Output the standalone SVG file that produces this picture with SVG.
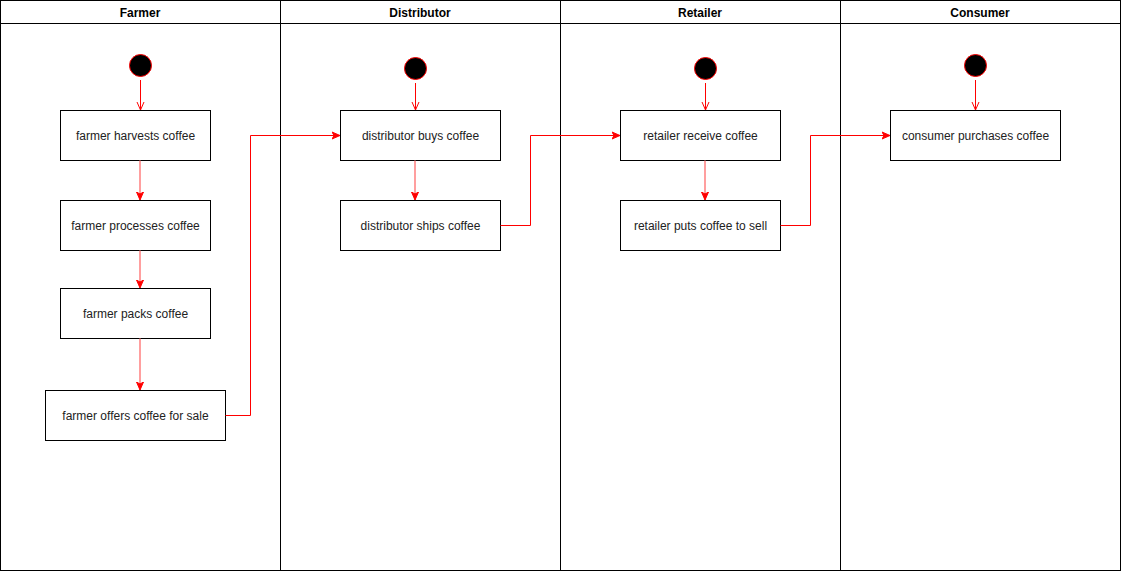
<svg xmlns="http://www.w3.org/2000/svg" width="1121" height="571" viewBox="0 0 1121 571">
<style>
.lane{fill:#fff;stroke:#000;stroke-width:1}
.box{fill:#fff;stroke:#000;stroke-width:1}
.start{fill:#000;stroke:#ff0000;stroke-width:1}
.t{font-family:"Liberation Sans",Arial,sans-serif;font-size:12px;fill:#222;text-anchor:middle;dominant-baseline:central}
.h{font-family:"Liberation Sans",Arial,sans-serif;font-size:12px;font-weight:bold;fill:#000;text-anchor:middle;dominant-baseline:central}
.e{fill:none;stroke:#ff0000;stroke-width:1}
.ev{fill:none;stroke:#ff7f7f;stroke-width:1.5}
</style>
<defs>
<marker id="open" markerWidth="10" markerHeight="10" refX="8" refY="5" orient="auto" markerUnits="userSpaceOnUse">
<path d="M0,1.5 L8,5 L0,8.5" fill="none" stroke="#ff0000" stroke-width="1"/>
</marker>
<marker id="block" markerWidth="10" markerHeight="10" refX="8" refY="5" orient="auto" markerUnits="userSpaceOnUse">
<path d="M0,1.5 L8,5 L0,8.5 L2,5 Z" fill="#ff0000" stroke="#ff0000" stroke-width="1"/>
</marker>
</defs>
<g id="lanes">
<g id="lane-farmer"><rect class="lane" x="0.5" y="0.5" width="280" height="570"/><line x1="0.5" y1="23.5" x2="280.5" y2="23.5" stroke="#000"/><text class="h" x="140" y="13">Farmer</text></g>
<g id="lane-distributor"><rect class="lane" x="280.5" y="0.5" width="280" height="570"/><line x1="280.5" y1="23.5" x2="560.5" y2="23.5" stroke="#000"/><text class="h" x="420" y="13">Distributor</text></g>
<g id="lane-retailer"><rect class="lane" x="560.5" y="0.5" width="280" height="570"/><line x1="560.5" y1="23.5" x2="840.5" y2="23.5" stroke="#000"/><text class="h" x="700" y="13">Retailer</text></g>
<g id="lane-consumer"><rect class="lane" x="840.5" y="0.5" width="280" height="570"/><line x1="840.5" y1="23.5" x2="1120.5" y2="23.5" stroke="#000"/><text class="h" x="980" y="13">Consumer</text></g>
</g>
<g id="start-farmer"><circle class="start" cx="140.5" cy="65.5" r="11"/></g>
<g id="start-distributor"><circle class="start" cx="415.5" cy="68.5" r="11"/></g>
<g id="start-retailer"><circle class="start" cx="705.5" cy="68.5" r="11"/></g>
<g id="start-consumer"><circle class="start" cx="975.5" cy="65.5" r="11"/></g>
<g id="n1"><rect class="box" x="60.5" y="110.5" width="150" height="50"/><text class="t" x="135.5" y="135.5">farmer harvests coffee</text></g>
<g id="n2"><rect class="box" x="60.5" y="200.5" width="150" height="50"/><text class="t" x="135.5" y="225.5">farmer processes coffee</text></g>
<g id="n3"><rect class="box" x="60.5" y="288.5" width="150" height="50"/><text class="t" x="135.5" y="313.5">farmer packs coffee</text></g>
<g id="n4"><rect class="box" x="45.5" y="390.5" width="180" height="50"/><text class="t" x="135.5" y="415.5">farmer offers coffee for sale</text></g>
<g id="n5"><rect class="box" x="340.5" y="110.5" width="160" height="50"/><text class="t" x="420.5" y="135.5">distributor buys coffee</text></g>
<g id="n6"><rect class="box" x="340.5" y="200.5" width="160" height="50"/><text class="t" x="420.5" y="225.5">distributor ships coffee</text></g>
<g id="n7"><rect class="box" x="620.5" y="110.5" width="160" height="50"/><text class="t" x="700.5" y="135.5">retailer receive coffee</text></g>
<g id="n8"><rect class="box" x="620.5" y="200.5" width="160" height="50"/><text class="t" x="700.5" y="225.5">retailer puts coffee to sell</text></g>
<g id="n9"><rect class="box" x="890.5" y="110.5" width="170" height="50"/><text class="t" x="975.5" y="135.5">consumer purchases coffee</text></g>
<g id="connectors">
<path class="e" d="M140.5,80 V110" marker-end="url(#open)"/>
<path class="e" d="M415.5,83 V110" marker-end="url(#open)"/>
<path class="e" d="M705.5,83 V110" marker-end="url(#open)"/>
<path class="e" d="M975.5,80 V110" marker-end="url(#open)"/>
<path class="ev" d="M140,160.5 V200" marker-end="url(#block)"/>
<path class="ev" d="M140,250.5 V288" marker-end="url(#block)"/>
<path class="ev" d="M140,338.5 V390" marker-end="url(#block)"/>
<path class="ev" d="M415,160.5 V200" marker-end="url(#block)"/>
<path class="ev" d="M705,160.5 V200" marker-end="url(#block)"/>
<path class="e" d="M225.5,415.5 H250.5 V135.5 H340" marker-end="url(#block)"/>
<path class="e" d="M500.5,225.5 H530.5 V135.5 H620" marker-end="url(#block)"/>
<path class="e" d="M780.5,225.5 H810.5 V135.5 H890" marker-end="url(#block)"/>
</g>
</svg>
